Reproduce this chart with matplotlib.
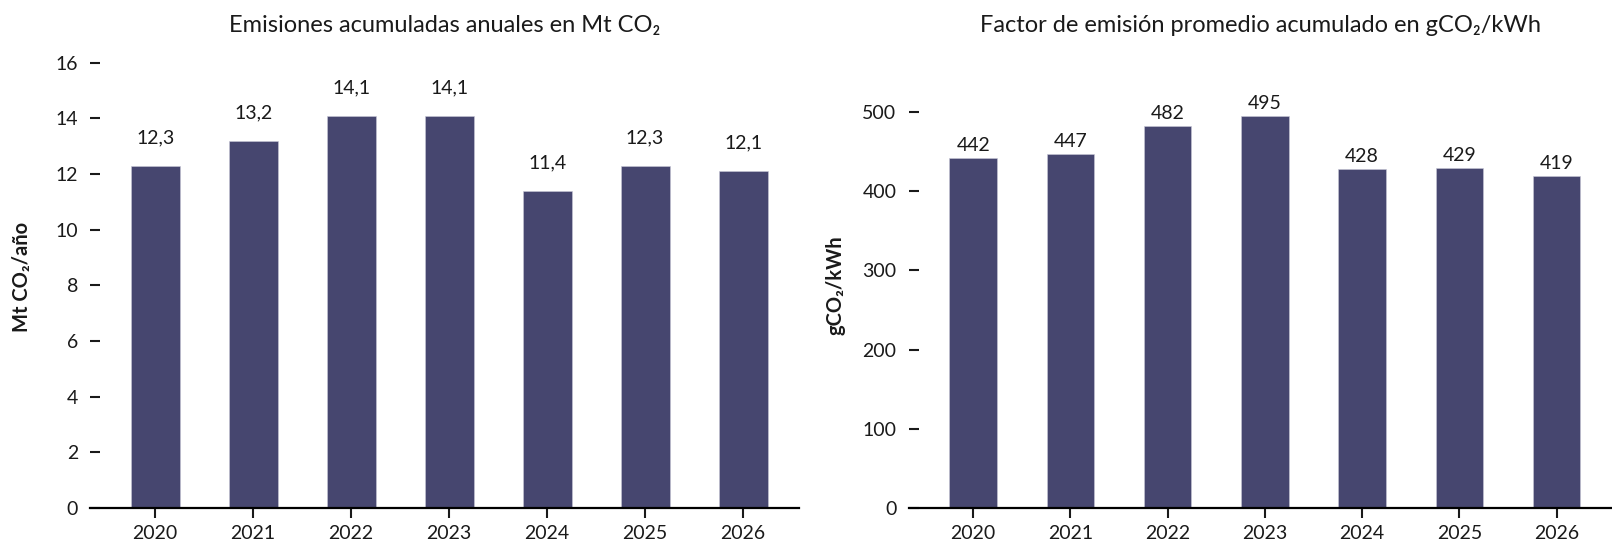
import matplotlib
matplotlib.use("Agg")
import matplotlib.pyplot as plt

plt.rcParams['font.family'] = ['Lato', 'DejaVu Sans']

years = ["2020", "2021", "2022", "2023", "2024", "2025", "2026"]
emisiones = [12.3, 13.2, 14.1, 14.1, 11.4, 12.3, 12.1]
emisiones_labels = ["12,3", "13,2", "14,1", "14,1", "11,4", "12,3", "12,1"]
factor = [442, 447, 482, 495, 428, 429, 419]
factor_labels = ["442", "447", "482", "495", "428", "429", "419"]

left_ticks = [0, 2, 4, 6, 8, 10, 12, 14, 16]
right_ticks = [0, 100, 200, 300, 400, 500]

BAR = "#46466F"
TXT = "#1a1a1a"
FS = 14

fig = plt.figure(figsize=(16.12, 5.42), dpi=100)
ax1 = fig.add_axes([0.0561, 0.0627, 0.4395, 0.8216])
ax2 = fig.add_axes([0.5639, 0.0627, 0.4361, 0.8216])

def style(ax, ylim, yticks):
    x = list(range(len(years)))
    ax.set_xlim(-0.66, 6.57)
    ax.set_ylim(*ylim)
    ax.set_yticks(yticks)
    ax.set_xticks(x)
    ax.set_xticklabels(years)
    for s in ["top", "right", "left"]:
        ax.spines[s].set_visible(False)
    ax.spines["bottom"].set_linewidth(1.6)
    ax.spines["bottom"].set_color("black")
    ax.tick_params(axis="y", direction="in", length=7, width=1.5, pad=9,
                   labelsize=FS, colors=TXT)
    ax.tick_params(axis="x", direction="out", length=7, width=1.5, pad=5,
                   labelsize=FS, colors=TXT)

x = list(range(len(years)))
b1 = ax1.bar(x, emisiones, width=0.5, color=BAR, edgecolor="#c8c8d8", linewidth=0.4)
style(ax1, (0, 16), left_ticks)
ax1.bar_label(b1, labels=emisiones_labels, padding=14, fontsize=FS, color=TXT)
ax1.set_title("Emisiones acumuladas anuales en Mt CO₂", fontsize=17, pad=22, color=TXT)
ax1.set_ylabel("Mt CO₂/año", fontsize=14.5, fontweight="bold", color=TXT)
ax1.yaxis.set_label_coords(-0.082, 0.52)

b2 = ax2.bar(x, factor, width=0.49, color=BAR, edgecolor="#c8c8d8", linewidth=0.4)
style(ax2, (0, 562), right_ticks)
ax2.bar_label(b2, labels=factor_labels, padding=3, fontsize=FS, color=TXT)
ax2.set_title("Factor de emisión promedio acumulado en gCO₂/kWh", fontsize=17, pad=22, color=TXT)
ax2.set_ylabel("gCO₂/kWh", fontsize=14.5, fontweight="bold", labelpad=12, color=TXT)

fig.savefig("out.png", dpi=100)
